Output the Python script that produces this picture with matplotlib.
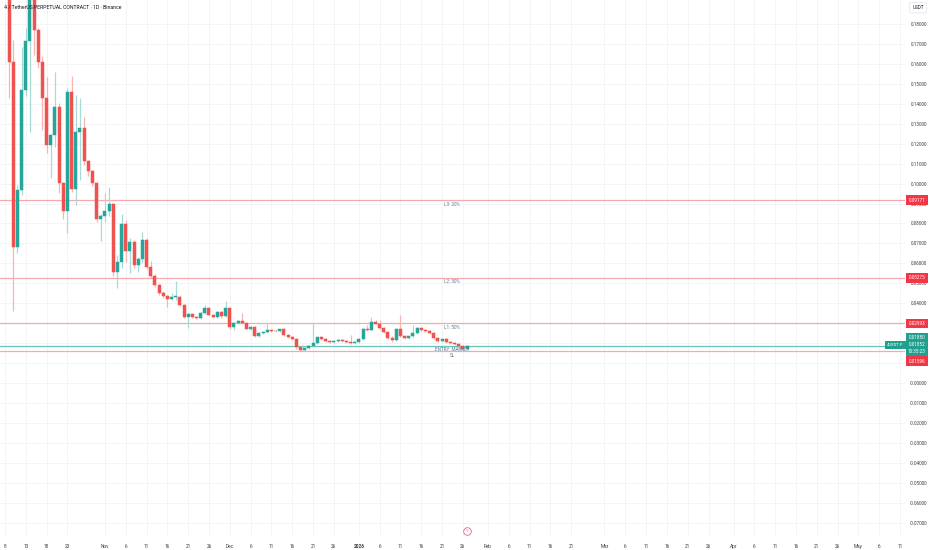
import matplotlib
matplotlib.use("Agg")
import matplotlib.pyplot as plt
import numpy as np
import pandas as pd

plt.rcParams['font.family'] = ['Roboto', 'DejaVu Sans']

# ---------------- data ----------------
start_date = "2025-10-09"
origin_date = "2025-10-08"

opens = [0.2000, 0.1610, 0.0682, 0.0968, 0.1469, 0.1715, 0.1960, 0.1770, 0.1610, 0.1429,
         0.1194, 0.1244, 0.1384, 0.1003, 0.0863, 0.1459, 0.0973, 0.1259, 0.1279, 0.1113,
         0.1063, 0.1003, 0.0822, 0.0837, 0.0863, 0.0898, 0.0557, 0.0607, 0.0797, 0.0662,
         0.0707, 0.0592, 0.0622, 0.0717, 0.0582, 0.0537, 0.0491, 0.0451, 0.0436, 0.0421,
         0.0431, 0.0431, 0.0391, 0.0331, 0.0346, 0.0331, 0.0326, 0.0351, 0.0376, 0.0341,
         0.0331, 0.0356, 0.0336, 0.0376, 0.0281, 0.0301, 0.0311, 0.0301, 0.0271, 0.0281,
         0.0236, 0.0251, 0.0256, 0.0266, 0.0261, 0.0259, 0.0271, 0.0241, 0.0231, 0.0221,
         0.0181, 0.0165, 0.0176, 0.0186, 0.0201, 0.0231, 0.0221, 0.0211, 0.0206, 0.0211,
         0.0216, 0.0211, 0.0206, 0.0201, 0.0206, 0.0221, 0.0271, 0.0266, 0.0306, 0.0296,
         0.0276, 0.0256, 0.0226, 0.0216, 0.0271, 0.0236, 0.0226, 0.0236, 0.0251, 0.0276,
         0.0266, 0.0261, 0.0251, 0.0226, 0.0211, 0.0221, 0.0206, 0.0201, 0.0196, 0.0186,
         0.0173]

closes = [0.1610, 0.0682, 0.0968, 0.1469, 0.1715, 0.1960, 0.1770, 0.1610, 0.1429, 0.1194,
          0.1244, 0.1384, 0.1003, 0.0863, 0.1459, 0.0973, 0.1259, 0.1279, 0.1113, 0.1063,
          0.1003, 0.0822, 0.0837, 0.0863, 0.0898, 0.0557, 0.0607, 0.0797, 0.0662, 0.0707,
          0.0592, 0.0622, 0.0717, 0.0582, 0.0537, 0.0491, 0.0451, 0.0436, 0.0421, 0.0431,
          0.0434, 0.0391, 0.0331, 0.0346, 0.0331, 0.0326, 0.0351, 0.0376, 0.0341, 0.0331,
          0.0356, 0.0336, 0.0376, 0.0281, 0.0301, 0.0311, 0.0301, 0.0271, 0.0281, 0.0236,
          0.0251, 0.0256, 0.0266, 0.0261, 0.0259, 0.0271, 0.0241, 0.0231, 0.0221, 0.0181,
          0.0165, 0.0176, 0.0188, 0.0201, 0.0231, 0.0221, 0.0211, 0.0206, 0.0211, 0.0216,
          0.0211, 0.0206, 0.0201, 0.0206, 0.0221, 0.0271, 0.0266, 0.0306, 0.0296, 0.0276,
          0.0256, 0.0226, 0.0216, 0.0271, 0.0236, 0.0226, 0.0236, 0.0251, 0.0276, 0.0266,
          0.0261, 0.0251, 0.0226, 0.0211, 0.0221, 0.0206, 0.0201, 0.0196, 0.0186, 0.0173,
          0.01852]

highs = [0.2120, 0.1720, 0.0993, 0.1685, 0.1780, 0.2150, 0.2050, 0.1780, 0.1640, 0.1535,
         0.1250, 0.1560, 0.1404, 0.1010, 0.1480, 0.1540, 0.1444, 0.1429, 0.1334, 0.1120,
         0.1070, 0.1010, 0.0850, 0.0953, 0.0983, 0.0905, 0.0642, 0.0848, 0.0817, 0.0727,
         0.0717, 0.0630, 0.0757, 0.0725, 0.0612, 0.0545, 0.0495, 0.0460, 0.0440, 0.0451,
         0.0512, 0.0440, 0.0395, 0.0350, 0.0350, 0.0335, 0.0355, 0.0391, 0.0380, 0.0345,
         0.0360, 0.0360, 0.0411, 0.0380, 0.0305, 0.0315, 0.0351, 0.0305, 0.0285, 0.0285,
         0.0255, 0.0260, 0.0301, 0.0270, 0.0268, 0.0272, 0.0275, 0.0245, 0.0235, 0.0225,
         0.0185, 0.0182, 0.0190, 0.0301, 0.0232, 0.0236, 0.0225, 0.0215, 0.0215, 0.0220,
         0.0220, 0.0216, 0.0241, 0.0210, 0.0225, 0.0275, 0.0290, 0.0331, 0.0315, 0.0316,
         0.0280, 0.0262, 0.0235, 0.0275, 0.0341, 0.0240, 0.0238, 0.0291, 0.0280, 0.0282,
         0.0270, 0.0265, 0.0255, 0.0230, 0.0222, 0.0225, 0.0210, 0.0205, 0.0200, 0.0190,
         0.0190]

lows = [0.1429, 0.0361, 0.0652, 0.0943, 0.1440, 0.1259, 0.1645, 0.1580, 0.1269, 0.1153,
        0.1028, 0.1184, 0.0953, 0.0822, 0.0752, 0.0958, 0.0893, 0.1018, 0.1093, 0.1038,
        0.0988, 0.0807, 0.0712, 0.0807, 0.0837, 0.0537, 0.0476, 0.0577, 0.0607, 0.0552,
        0.0577, 0.0557, 0.0600, 0.0572, 0.0527, 0.0481, 0.0441, 0.0426, 0.0381, 0.0416,
        0.0416, 0.0386, 0.0326, 0.0276, 0.0325, 0.0320, 0.0320, 0.0345, 0.0336, 0.0326,
        0.0328, 0.0328, 0.0330, 0.0271, 0.0266, 0.0295, 0.0298, 0.0270, 0.0265, 0.0231,
        0.0230, 0.0245, 0.0250, 0.0258, 0.0255, 0.0255, 0.0238, 0.0228, 0.0218, 0.0170,
        0.0160, 0.0160, 0.0172, 0.0180, 0.0198, 0.0218, 0.0205, 0.0200, 0.0202, 0.0208,
        0.0208, 0.0202, 0.0198, 0.0196, 0.0202, 0.0218, 0.0262, 0.0260, 0.0295, 0.0272,
        0.0250, 0.0220, 0.0205, 0.0210, 0.0230, 0.0220, 0.0222, 0.0230, 0.0245, 0.0262,
        0.0255, 0.0246, 0.0222, 0.0205, 0.0208, 0.0200, 0.0195, 0.0192, 0.0178, 0.0168,
        0.0168]

level_values = [0.09171, 0.05275, 0.02993]
level_labels = ["L3: 20%", "L2: 30%", "L1: 50%"]
entry_value = 0.01880
sl_value = 0.01596
last_value = 0.01852
countdown = "10:35:23"
symbol_label = "4USDT.P"
title_text = "4 / TetherUS PERPETUAL CONTRACT · 1D · Binance"
annot_date = "2026-01-23"

tick_dates = ["2025-10-08", "2025-10-13", "2025-10-18", "2025-10-23",
              "2025-11-01", "2025-11-06", "2025-11-11", "2025-11-16", "2025-11-21", "2025-11-26",
              "2025-12-01", "2025-12-06", "2025-12-11", "2025-12-16", "2025-12-21", "2025-12-26",
              "2026-01-01", "2026-01-06", "2026-01-11", "2026-01-16", "2026-01-21", "2026-01-26",
              "2026-02-01", "2026-02-06", "2026-02-11", "2026-02-16", "2026-02-21",
              "2026-03-01", "2026-03-06", "2026-03-11", "2026-03-16", "2026-03-21", "2026-03-26",
              "2026-04-01", "2026-04-06", "2026-04-11", "2026-04-16", "2026-04-21", "2026-04-26",
              "2026-05-01", "2026-05-06", "2026-05-11"]
tick_labels = ["8", "13", "18", "23",
               "Nov", "6", "11", "16", "21", "26",
               "Dec", "6", "11", "16", "21", "26",
               "2026", "6", "11", "16", "21", "26",
               "Feb", "6", "11", "16", "21",
               "Mar", "6", "11", "16", "21", "26",
               "Apr", "6", "11", "16", "21", "26",
               "May", "6", "11"]

# price grid; the labels of 0.02 and 0.01 sit under the price boxes, so they are blank
price_ticks = [0.18, 0.17, 0.16, 0.15, 0.14, 0.13, 0.12, 0.11, 0.10, 0.09, 0.08, 0.07,
               0.06, 0.05, 0.04, 0.03, 0.02, 0.01, 0.0, -0.01, -0.02, -0.03, -0.04,
               -0.05, -0.06, -0.07]
price_tick_labels = ["0.18000", "0.17000", "0.16000", "0.15000", "0.14000", "0.13000",
                     "0.12000", "0.11000", "0.10000", "0.09000", "0.08000", "0.07000",
                     "0.06000", "0.05000", "0.04000", "0.03000", "", "",
                     "-0.00000", "-0.01000", "-0.02000", "-0.03000", "-0.04000",
                     "-0.05000", "-0.06000", "-0.07000"]

# ---------------- style ----------------
UP = '#26a69a'
DOWN = '#ef5350'
UP_WICK = '#a8dbd5'
DOWN_WICK = '#f8b4b3'
LEVEL_LINE = '#f5a9ad'
ENTRY_LINE = '#6cc3b7'
BOX_RED = '#f23645'
BOX_GREEN = '#22a08f'
TXT = '#131722'
ANNOT = '#5b7896'

W, H = 932, 550
fig = plt.figure(figsize=(W / 100, H / 100), dpi=100)
ax_bottom_px = 14
ax_right_px = 905
ax = fig.add_axes([0, ax_bottom_px / H, ax_right_px / W, 1 - ax_bottom_px / H])

origin = pd.Timestamp(origin_date)
dates = pd.date_range(start_date, periods=len(opens), freq='D')
x = np.array([(d - origin).days for d in dates], dtype=float)
o = np.array(opens)
c = np.array(closes)
hi = np.array(highs)
lo = np.array(lows)
up = c >= o

ax.vlines(x, lo, hi, colors=np.where(up, UP_WICK, DOWN_WICK), linewidth=0.9, zorder=2)
ax.bar(x, np.abs(c - o), bottom=np.minimum(o, c), width=0.72,
       color=np.where(up, UP, DOWN), edgecolor=np.where(up, UP, DOWN),
       linewidth=0.35, zorder=3)

# horizontal trade levels
for v in level_values + [sl_value]:
    ax.axhline(v, color=LEVEL_LINE, linewidth=0.9, zorder=1.5)
ax.axhline(entry_value, color=ENTRY_LINE, linewidth=0.9, zorder=1.5)

ann_x = (pd.Timestamp(annot_date) - origin).days + 0.4
for v, lab in zip(level_values, level_labels):
    ax.annotate(lab, xy=(ann_x, v), xytext=(0, -4), textcoords='offset pixels',
                ha='center', va='center', fontsize=3.3, color=ANNOT)
ax.annotate("ENTRY: MARKET", xy=(ann_x, entry_value), xytext=(0, -4),
            textcoords='offset pixels', ha='center', va='center', fontsize=3.3, color=ANNOT)
ax.annotate("SL", xy=(ann_x, sl_value), xytext=(0, -4),
            textcoords='offset pixels', ha='center', va='center', fontsize=3.3, color=ANNOT)

# axes limits (4.163 px per day, 0.01 = 19.94 px)
px_per_day = 4.163
ax.set_xlim(-5 / px_per_day, (ax_right_px - 5) / px_per_day)
ax.set_ylim(-153 / 1994, 383 / 1994)

# ticks
tick_x = [(pd.Timestamp(d) - origin).days for d in tick_dates]
ax.set_xticks(tick_x)
ax.set_xticklabels(tick_labels)
for lbl in ax.get_xticklabels():
    if lbl.get_text() == "2026":
        lbl.set_fontweight('bold')
ax.tick_params(axis='x', length=0, pad=5.5, labelsize=3.4, labelcolor='#3a3e4a')

ax.yaxis.tick_right()
ax.set_yticks(price_ticks)
ax.set_yticklabels(price_tick_labels)
ax.tick_params(axis='y', length=0, pad=3.8, labelsize=3.3, labelcolor='#3a3e4a')

ax.grid(True, color='#f2f3f6', linewidth=0.6)
ax.set_axisbelow(True)
for s in ax.spines.values():
    s.set_visible(False)

# title
ax.text(0.0045, 1 - 7 / 536, title_text, transform=ax.transAxes, ha='left', va='center',
        fontsize=3.7, color=TXT, zorder=6)

# right-side price boxes
for v in level_values:
    ax.annotate(f"{v:.5f}", xy=(1, v), xycoords=('axes fraction', 'data'),
                xytext=(12, 0), textcoords='offset pixels', ha='center', va='center',
                fontsize=3.3, color='white', annotation_clip=False, zorder=8,
                bbox=dict(boxstyle='square,pad=0.5', fc=BOX_RED, ec='none'))
ax.annotate(f"{entry_value:.5f}\n{last_value:.5f}\n{countdown}", xy=(1, last_value),
            xycoords=('axes fraction', 'data'), xytext=(12, 1.5), textcoords='offset pixels',
            ha='center', va='center', multialignment='center', linespacing=1.55,
            fontsize=3.3, color='white', annotation_clip=False, zorder=8,
            bbox=dict(boxstyle='square,pad=0.5', fc=BOX_GREEN, ec='none'))
ax.annotate(f"{sl_value:.5f}", xy=(1, sl_value), xycoords=('axes fraction', 'data'),
            xytext=(12, -10), textcoords='offset pixels', ha='center', va='center',
            fontsize=3.3, color='white', annotation_clip=False, zorder=8,
            bbox=dict(boxstyle='square,pad=0.5', fc=BOX_RED, ec='none'))
ax.annotate(symbol_label, xy=(1, last_value), xycoords=('axes fraction', 'data'),
            xytext=(-9.5, 1), textcoords='offset pixels', ha='center', va='center',
            fontsize=3.0, color='white', annotation_clip=False, zorder=8,
            bbox=dict(boxstyle='square,pad=0.45', fc=BOX_GREEN, ec='none'))

# currency box
ax.text(1 + 13 / ax_right_px, 1 - 7.7 / 536, "USDT", transform=ax.transAxes,
        ha='center', va='center', fontsize=3.3, color=TXT, zorder=8,
        bbox=dict(boxstyle='round,pad=0.6,rounding_size=0.3', fc='white', ec='#e0e3eb', lw=0.5))

# event icon on time axis
icon_x = x[-1]
ax.scatter([icon_x], [5 / 536], transform=ax.get_xaxis_transform(), s=30,
           facecolor='white', edgecolor='#d96b86', linewidth=0.6, zorder=9, clip_on=False)
ax.text(icon_x, 5 / 536, "ϟ", transform=ax.get_xaxis_transform(), ha='center', va='center',
        fontsize=3.2, color='#d96b86', zorder=10, family=['DejaVu Sans'])

fig.savefig("out.png", dpi=100)
